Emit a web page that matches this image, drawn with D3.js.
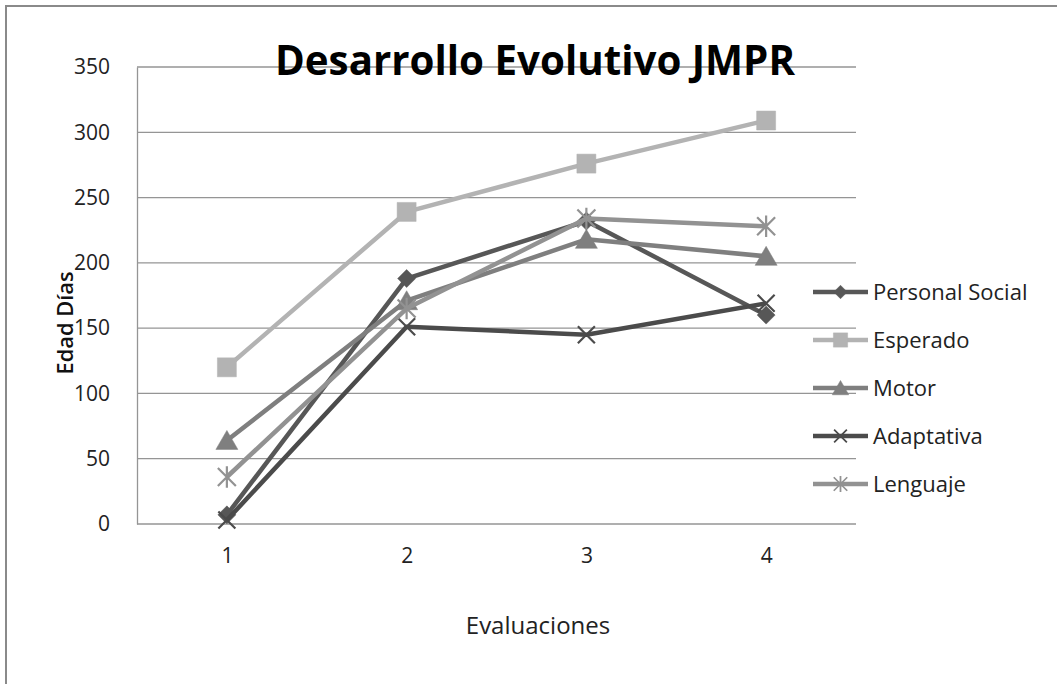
<!DOCTYPE html>
<html>
<head>
<meta charset="utf-8">
<script src="https://cdn.jsdelivr.net/npm/d3@7"></script>
<style>
  body { margin: 0; background: #fff; }
  svg { display: block; font-family: "Open Sans", Lato, sans-serif; }
</style>
</head>
<body>
<div id="chart"></div>
<script>
// chart data
var evaluaciones = ["1", "2", "3", "4"];
var personalSocial = [7, 188, 232, 160];
var esperado = [120, 239, 276, 309];
var motor = [64, 171, 218, 205];
var adaptativa = [3, 151, 145, 169];
var lenguaje = [36, 165, 234, 228];
var yTicks = [0, 50, 100, 150, 200, 250, 300, 350];

var series = [
  {name: "Personal Social", values: personalSocial, color: "#575757", marker: "diamond"},
  {name: "Esperado", values: esperado, color: "#b3b3b3", marker: "square"},
  {name: "Motor", values: motor, color: "#7f7f7f", marker: "triangle"},
  {name: "Adaptativa", values: adaptativa, color: "#4b4b4b", marker: "x"},
  {name: "Lenguaje", values: lenguaje, color: "#929292", marker: "star"}
];

var width = 1057, height = 684;
var plot = {left: 137, right: 856, top: 67, bottom: 524};
var font = '"Open Sans", Lato, sans-serif';

var svg = d3.select("#chart").append("svg")
    .attr("width", width)
    .attr("height", height);

// outer chart border (cropped on right/bottom like the source)
svg.append("rect")
    .attr("x", 6).attr("y", 6)
    .attr("width", 1200).attr("height", 900)
    .attr("fill", "#fff")
    .attr("stroke", "#8a8a8a")
    .attr("stroke-width", 2);

var x = d3.scalePoint()
    .domain(evaluaciones)
    .range([plot.left, plot.right])
    .padding(0.5);

var y = d3.scaleLinear()
    .domain([0, 350])
    .range([plot.bottom, plot.top]);

// gridlines
svg.append("g")
  .selectAll("line")
  .data(yTicks)
  .join("line")
    .attr("x1", plot.left).attr("x2", plot.right)
    .attr("y1", d => y(d)).attr("y2", d => y(d))
    .attr("stroke", "#959595")
    .attr("stroke-width", 1.3);

// y axis
var yAxis = svg.append("g")
    .attr("transform", "translate(" + plot.left + ",0)")
    .call(d3.axisLeft(y).tickValues(yTicks).tickSize(0).tickPadding(27))
    .attr("font-family", font)
    .attr("font-size", 21);
yAxis.select(".domain").attr("stroke", "#959595").attr("stroke-width", 1.3);
yAxis.selectAll("text").attr("fill", "#222");

// x axis
var xAxis = svg.append("g")
    .attr("transform", "translate(0," + plot.bottom + ")")
    .call(d3.axisBottom(x).tickSize(0).tickPadding(24))
    .attr("font-family", font)
    .attr("font-size", 21);
xAxis.select(".domain").remove();
xAxis.selectAll("text").attr("fill", "#222");

// marker shapes
function markerPath(type, s) {
  if (type == "diamond") return "M0," + (-s) + "L" + s + ",0L0," + s + "L" + (-s) + ",0Z";
  if (type == "square") return "M" + (-s) + "," + (-s) + "H" + s + "V" + s + "H" + (-s) + "Z";
  if (type == "triangle") return "M0," + (-s) + "L" + (s * 1.1) + "," + (s * 0.9) + "L" + (-s * 1.1) + "," + (s * 0.9) + "Z";
  if (type == "x") return "M" + (-s) + "," + (-s) + "L" + s + "," + s + "M" + (-s) + "," + s + "L" + s + "," + (-s);
  // asterisk
  return "M" + (-s) + "," + (-s) + "L" + s + "," + s + "M" + (-s) + "," + s + "L" + s + "," + (-s) +
         "M0," + (-s * 1.2) + "V" + (s * 1.2);
}
var markerSize = {diamond: 9, square: 9.5, triangle: 10, x: 8.5, star: 9};

function drawMarker(g, d, scale) {
  var s = markerSize[d.marker] * scale;
  var open = d.marker == "x" || d.marker == "star";
  g.append("path")
      .attr("d", markerPath(d.marker, s))
      .attr("fill", open ? "none" : d.color)
      .attr("stroke", d.color)
      .attr("stroke-width", open ? 2.2 * Math.max(scale, 0.8) : 0.5);
}

var line = d3.line()
    .x((v, i) => x(evaluaciones[i]))
    .y(v => y(v));

var seriesG = svg.append("g")
  .selectAll("g")
  .data(series)
  .join("g");

seriesG.append("path")
    .attr("d", d => line(d.values))
    .attr("fill", "none")
    .attr("stroke", d => d.color)
    .attr("stroke-width", 4.5)
    .attr("stroke-linejoin", "round");

seriesG.each(function(d) {
  var g = d3.select(this);
  d.values.forEach(function(v, i) {
    var m = g.append("g")
        .attr("transform", "translate(" + x(evaluaciones[i]) + "," + y(v) + ")");
    drawMarker(m, d, 1);
  });
});

// legend
var legend = svg.append("g")
  .selectAll("g")
  .data(series)
  .join("g")
    .attr("transform", (d, i) => "translate(813," + (292 + i * 48) + ")");

legend.append("line")
    .attr("x1", 0).attr("x2", 55)
    .attr("stroke", d => d.color)
    .attr("stroke-width", 4.5);

legend.each(function(d) {
  var m = d3.select(this).append("g").attr("transform", "translate(27.5,0)");
  drawMarker(m, d, 0.75);
});

legend.append("text")
    .attr("x", 60)
    .attr("dy", "0.35em")
    .attr("font-size", 22)
    .attr("fill", "#222")
    .text(d => d.name);

// title and axis titles
svg.append("text")
    .attr("x", 535)
    .attr("y", 75)
    .attr("text-anchor", "middle")
    .attr("font-size", 42)
    .attr("font-weight", "bold")
    .attr("textLength", 520)
    .attr("lengthAdjust", "spacingAndGlyphs")
    .attr("fill", "#000")
    .text("Desarrollo Evolutivo JMPR");

svg.append("text")
    .attr("transform", "translate(73,323) rotate(-90)")
    .attr("text-anchor", "middle")
    .attr("font-size", 21)
    .attr("font-weight", 600)
    .attr("textLength", 103)
    .attr("lengthAdjust", "spacingAndGlyphs")
    .attr("fill", "#111")
    .text("Edad Días");

svg.append("text")
    .attr("x", 538)
    .attr("y", 634)
    .attr("text-anchor", "middle")
    .attr("font-size", 24)
    .attr("fill", "#222")
    .text("Evaluaciones");
</script>
</body>
</html>
